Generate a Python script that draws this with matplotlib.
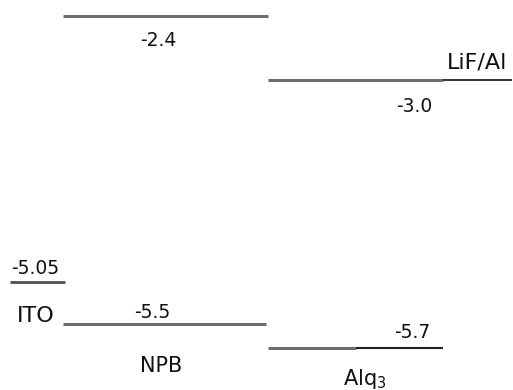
import numpy as np
import matplotlib
matplotlib.use("Agg")
import matplotlib.pyplot as plt
from matplotlib.scale import FuncScale

plt.rcParams['font.family'] = ['DejaVu Sans']

# energy levels (eV)
ito_wf = -5.05
npb_lumo, npb_homo = -2.4, -5.5
alq_lumo, alq_homo = -3.0, -5.7
lif_wf = -3.0

# diagram is not drawn to scale: piecewise map from energy to vertical position
e_pts = np.array([-6.05, -5.7, -5.5, -5.05, -3.0, -2.4, -2.25])
y_pts = np.array([-390, -348, -324, -282, -80, -16, 0], dtype=float)


def fwd(e):
    return np.interp(e, e_pts, y_pts)


def inv(y):
    return np.interp(y, y_pts, e_pts)


fig = plt.figure(figsize=(5.13, 3.90), dpi=100)
ax = fig.add_axes([0, 0, 1, 1])
ax.set_yscale(FuncScale(ax.yaxis, (fwd, inv)))
ax.set_xlim(0, 513)
ax.set_ylim(-6.05, -2.25)
ax.axis('off')

gray = '#6e6e6e'
dark = '#222222'

ax.hlines(ito_wf, 10, 65, color='#505050', lw=2.0)
ax.hlines(npb_lumo, 63, 268, color=gray, lw=2.2)
ax.hlines(npb_homo, 63, 266, color=gray, lw=2.2)
ax.hlines(alq_lumo, 268, 443, color=gray, lw=2.2)
ax.hlines(lif_wf, 443, 512, color=dark, lw=1.3)
ax.hlines(alq_homo, 268, 356, color=gray, lw=2.2)
ax.hlines(alq_homo, 356, 443, color=dark, lw=1.5)


def px(x, y):
    return (x / 513, 1 - y / 390)


kw = dict(transform=fig.transFigure, ha='center', va='center', color='#111111')
num = 13.5
ax.text(*px(158, 41), f"{npb_lumo:.1f}", fontsize=num, **kw)
ax.text(*px(414, 107), f"{alq_lumo:.1f}", fontsize=num, **kw)
ax.text(*px(477, 62), "LiF/Al", fontsize=16, **kw)
ax.text(*px(35, 268), f"{ito_wf:.2f}", fontsize=num, **kw)
ax.text(*px(36, 316), "ITO", fontsize=16, **kw)
ax.text(*px(152, 312), f"{npb_homo:.1f}", fontsize=num, **kw)
ax.text(*px(161, 366), "NPB", fontsize=15, **kw)
ax.text(*px(412, 333), f"{alq_homo:.1f}", fontsize=num, **kw)
ax.text(*px(365, 379), "Alq$_3$", fontsize=15, **kw)

fig.savefig("out.png", dpi=100)
